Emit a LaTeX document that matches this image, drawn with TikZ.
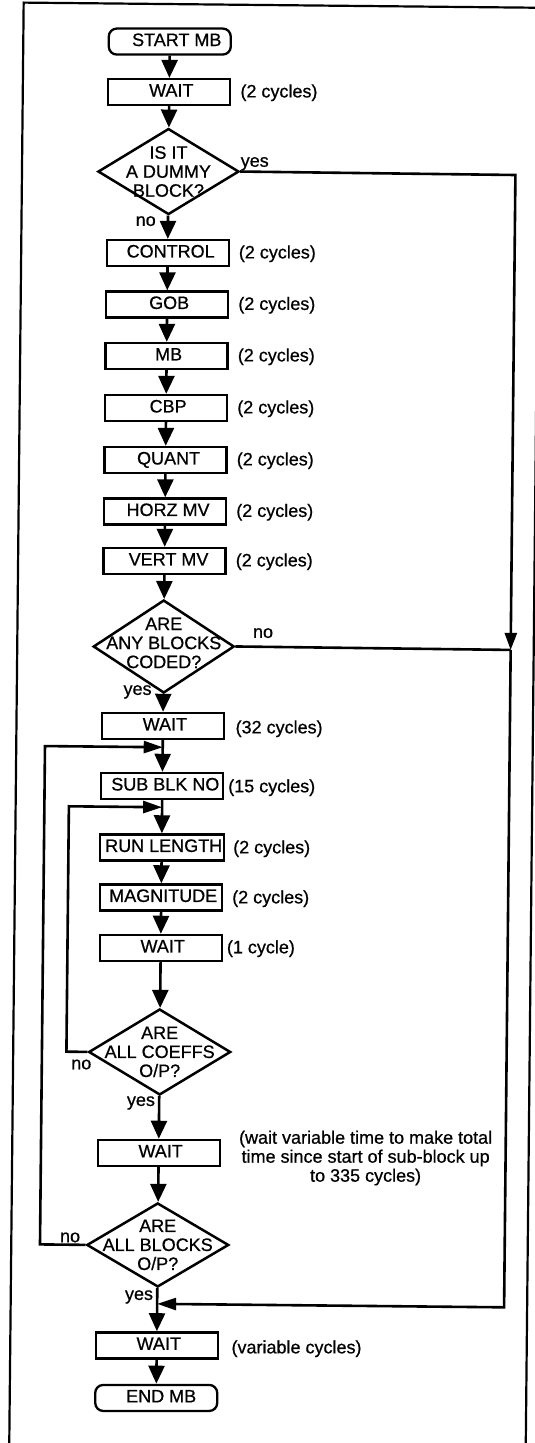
\documentclass[tikz,border=0pt]{standalone}
\usepackage{fontspec}
\setmainfont{Liberation Sans}[FakeBold=0.7]
\usetikzlibrary{arrows.meta,shapes.geometric}
\begin{document}
\begin{tikzpicture}[x=1pt,y=1pt,
  every node/.style={font=\fontsize{18}{19}\selectfont},
  proc/.style={draw, line width=2.3pt, minimum width=122pt, minimum height=26pt,
    inner xsep=1.5pt, inner ysep=2pt, text height=12.9pt, text depth=4pt},
  term/.style={proc, rounded corners=8pt},
  dia/.style={draw, diamond, line width=2.5pt, minimum width=141pt, minimum height=86pt, inner sep=0pt},
  dtext/.style={align=center, inner sep=0pt},
  note/.style={anchor=west, inner sep=0pt},
  lab/.style={inner sep=0pt},
  flow/.style={line width=2.6pt},
  arr/.style={flow, -{Triangle[length=18pt,width=16pt]}},
  harr/.style={flow, -{Triangle[length=19pt,width=12pt]}},
  varr/.style={flow, -{Triangle[length=17pt,width=12pt]}},
  frame/.style={line width=2.2pt}
]
\useasboundingbox (0,0) rectangle (535,-1443);
\fill[white] (0,0) rectangle (535,-1443);
\begin{scope}[rotate around={-0.573:(163,-720)}]
\draw[frame] (16.5,-1500) -- (16.5,-4) -- (533,-4) -- (533,-1500);

% main column
\node[term] (start) at (163,-41.5) {\hspace*{14pt}START MB};
\node[proc] (w1) at (163,-92) {\hspace*{4pt}WAIT};
\node[note] (w1n) at (234,-92) {(2 cycles)};

\node[dia] (d1) at (163,-171.5) {};
\node[dtext] (d1t) at (d1.center) {IS IT\\A DUMMY\\BLOCK?};
\node[lab, anchor=base west] (d1y) at (235,-166) {yes};
\node[lab, anchor=base east] (d1no) at (151,-226) {no};

\node[proc] (control) at (163,-253) {\hspace*{6pt}CONTROL};
\node[note] (controln) at (234,-253) {(2 cycles)};
\node[proc] (gob) at (163,-304.5) {\hspace*{4pt}GOB};
\node[note] (gobn) at (234,-304.5) {(2 cycles)};
\node[proc] (mb) at (163,-356) {\hspace*{4pt}MB};
\node[note] (mbn) at (234,-356) {(2 cycles)};
\node[proc] (cbp) at (163,-408) {\hspace*{4pt}CBP};
\node[note] (cbpn) at (234,-408) {(2 cycles)};
\node[proc] (quant) at (163,-460) {\hspace*{6pt}QUANT};
\node[note] (quantn) at (234,-460) {(2 cycles)};
\node[proc] (horz) at (163,-511.5) {\hspace*{6pt}HORZ MV};
\node[note] (horzn) at (234,-511.5) {(2 cycles)};
\node[proc] (vert) at (163,-561) {\hspace*{8pt}VERT MV};
\node[note] (vertn) at (234,-561) {(2 cycles)};

\node[dia, minimum height=93pt] (d2) at (163,-646.5) {};
\node[dtext] (d2t) at (163,-643) {ARE\\ANY BLOCKS\\CODED?};
\node[lab, anchor=base west] (d2no) at (252,-637) {no};
\node[lab, anchor=base east] (d2y) at (151.5,-695) {yes};

\node[proc] (w32) at (163,-726) {\hspace*{4pt}WAIT};
\node[note] (w32n) at (235.5,-728) {(32 cycles)};
\node[proc] (sub) at (163,-786) {\hspace*{6pt}SUB BLK NO};
\node[note] (subn) at (228.7,-787) {(15 cycles)};
\node[proc] (run) at (163,-847.5) {\hspace*{4pt}RUN LENGTH};
\node[note] (runn) at (234.3,-848) {(2 cycles)};
\node[proc] (mag) at (163,-897.5) {\hspace*{4pt}MAGNITUDE};
\node[note] (magn) at (233.8,-898) {(2 cycles)};
\node[proc] (w1c) at (163,-948) {\hspace*{4pt}WAIT};
\node[note] (w1cn) at (229,-948) {(1 cycle)};

\node[dia, minimum width=142pt] (d3) at (163,-1052) {};
\node[dtext] (d3t) at (d3.center) {ARE\\ALL COEFFS\\O/P?};
\node[lab, anchor=base east] (d3no) at (95,-1070) {no};
\node[lab, anchor=base east] (d3y) at (159,-1106) {yes};

\node[proc] (waitv) at (163,-1153) {\hspace*{4pt}WAIT};
\node[align=center, inner sep=0pt] (waitvn) at (370,-1156)
  {(wait variable time to make total\\time since start of sub-block up\\to 335 cycles)};

\node[dia, minimum width=142pt, minimum height=84pt] (d4) at (163,-1245) {};
\node[dtext] (d4t) at (d4.center) {ARE\\ALL BLOCKS\\O/P?};
\node[lab, anchor=base east] (d4no) at (85.5,-1243) {no};
\node[lab, anchor=base east] (d4y) at (159,-1300) {yes};

\node[proc] (wend) at (163,-1345.5) {\hspace*{4pt}WAIT};
\node[note] (wendn) at (237.6,-1348) {(variable cycles)};
\node[term] (end) at (163,-1398) {\hspace*{10pt}END MB};

% junction coordinates
\coordinate (j1) at (163,-747.3);
\coordinate (j2) at (163,-807.3);
\coordinate (j3) at (163,-1304);
\coordinate (r1) at (510,-171.5);
\coordinate (r2) at (510,-646.5);
\coordinate (r3) at (510,-1304);

% main flow
\draw[arr] (start) -- (w1);
\draw[arr] (w1) -- (d1);
\draw[arr] (d1) -- (control);
\draw[arr] (control) -- (gob);
\draw[arr] (gob) -- (mb);
\draw[arr] (mb) -- (cbp);
\draw[arr] (cbp) -- (quant);
\draw[arr] (quant) -- (horz);
\draw[arr] (horz) -- (vert);
\draw[arr] (vert) -- (d2);
\draw[arr] (d2) -- (w32);
\draw[arr] (w32) -- (sub);
\draw[arr] (sub) -- (run);
\draw[arr] (run) -- (mag);
\draw[arr] (mag) -- (w1c);
\draw[arr] (w1c) -- (d3);
\draw[arr] (d3) -- (waitv);
\draw[arr] (waitv) -- (d4);
\draw[arr] (d4) -- (wend);
\draw[arr] (wend) -- (end);

% loops
\draw[harr] (d3.west) -- ++(-21,0) |- (j2);
\draw[harr] (d4.west) -- ++(-45.5,0) |- (j1);

% bypass on the right
\draw[varr] (d1.east) -- (r1) -- (r2);
\draw[flow] (d2.east) -- (r2);
\draw[harr] (r2) -- (r3) -- (j3);
\end{scope}
\end{tikzpicture}
\end{document}
